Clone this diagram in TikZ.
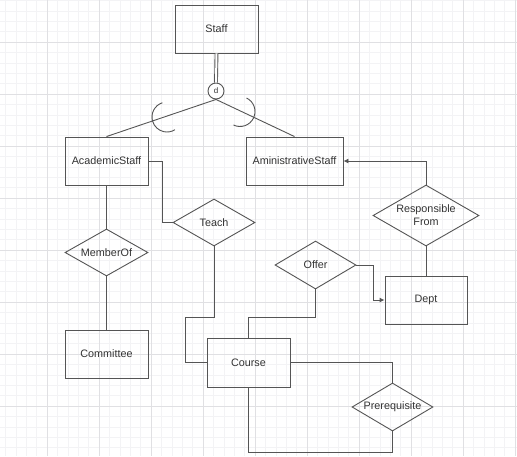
\documentclass[tikz,border=0pt]{standalone}
\usepackage{fontspec}
\setmainfont{Liberation Sans}
\usetikzlibrary{shapes.geometric,arrows.meta}
\definecolor{minorgrid}{HTML}{F3F3F5}
\definecolor{majorgrid}{HTML}{E0E0E3}
\definecolor{ink}{HTML}{555555}
\definecolor{txt}{HTML}{333333}
\tikzset{
  ent/.style={draw=ink, line width=0.9pt, rectangle, minimum width=83pt, minimum height=48pt, inner sep=0pt, text=txt, font=\fontsize{10.8}{13}\selectfont},
  rel/.style={draw=ink, line width=0.9pt, diamond, shape aspect=1.74, minimum width=82pt, minimum height=47pt, inner sep=0pt, text=txt, font=\fontsize{10.8}{13}\selectfont, align=center},
  conn/.style={draw=ink, line width=0.9pt},
  arr/.style={conn, -{Latex[length=5pt,width=5pt]}},
}
\begin{document}
\begin{tikzpicture}[x=1pt,y=-1pt]
\useasboundingbox (0,0) rectangle (517,456);
\fill[white] (0,0) rectangle (517,456);
% grid
\foreach \k in {0,...,50} {
  \draw[minorgrid, line width=0.6pt] ({-5+10.4*\k},0) -- ({-5+10.4*\k},456);
  \draw[minorgrid, line width=0.6pt] (0,{-10+10.4*\k}) -- (517,{-10+10.4*\k});
}
\foreach \k in {0,...,10} {
  \draw[majorgrid, line width=0.7pt] ({-5+52*\k},0) -- ({-5+52*\k},456);
  \draw[majorgrid, line width=0.7pt] (0,{-10+52*\k}) -- (517,{-10+52*\k});
}
% entities
\node[ent] (staff) at (216.5,29) {Staff};
\node[ent] (acad) at (106.5,161) {AcademicStaff};
\node[ent, minimum width=97pt] (admin) at (294.5,161) {AministrativeStaff};
\node[ent] (committee) at (106.5,354) {Committee};
\node[ent, minimum width=82pt] (dept) at (426,300) {Dept};
\node[ent, minimum height=49pt] (course) at (248.5,362.5) {Course};
% relationships
\node[rel] (teach) at (214,222.5) {Teach};
\node[rel, minimum width=106pt, minimum height=61pt] (resp) at (426,215.5) {Responsible\\From};
\node[rel, minimum width=83pt] (member) at (106.5,252.5) {MemberOf};
\node[rel, minimum width=81pt, minimum height=48pt] (offer) at (315.5,265) {Offer};
\node[rel, minimum width=81pt, minimum height=48pt] (prereq) at (392.5,407) {Prerequisite};
% disjoint circle
\node[draw=ink, line width=0.9pt, circle, minimum size=16pt, inner sep=0pt, text=txt, font=\fontsize{8}{9}\selectfont, fill=white] (d) at (216,91) {d};
% connectors
\draw[conn, double=white, double distance=2pt] (staff.south) -- (d.north);
\draw[conn] (d.south) -- (acad.north);
\draw[conn] (d.south) -- (admin.north);
\draw[conn] (167,117) ++(-108:15) arc[start angle=-108, end angle=-302, radius=15];
\draw[conn] (240,111.5) ++(-64:15) arc[start angle=-64, end angle=116, radius=15];
\draw[conn] (acad.east) -- ++(14,0) |- (teach.west);
\coordinate (t1) at (185,317);
\draw[conn] (teach.south) |- (t1) |- (course.west);
\coordinate (o1) at (248.5,317);
\draw[conn] (offer.south) |- (o1) -- (course.north);
\coordinate (o2) at (373,265);
\draw[arr] (offer.east) -- (o2) |- (dept.west);
\draw[arr] (resp.north) |- (admin.east);
\draw[conn] (resp.south) -- (dept.north);
\draw[conn] (acad.south) -- (member.north);
\draw[conn] (member.south) -- (committee.north);
\draw[conn] (course.east) -| (prereq.north);
\coordinate (p1) at (248.5,452);
\draw[conn] (prereq.south) |- (p1) -- (course.south);
\end{tikzpicture}
\end{document}
